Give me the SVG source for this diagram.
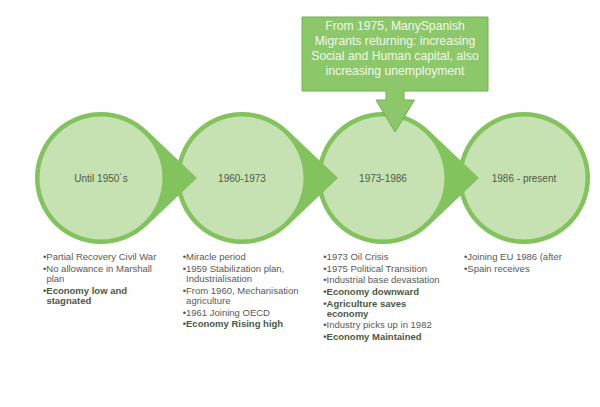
<svg xmlns="http://www.w3.org/2000/svg" width="600" height="407" viewBox="0 0 600 407">
<style>
.ring{fill:#82C35E}
.core{fill:#C6E2B2}
.tip{fill:#82C35E}
.lbl{font-family:"Liberation Sans",Arial,sans-serif;font-size:10px;fill:#4F5B46;text-anchor:middle}
.li{font-family:"Liberation Sans",Arial,sans-serif;font-size:9.5px;fill:#595959}
.b{font-weight:bold;fill:#4C5843}
.co{fill:#8CC86A;stroke:#72AF4E;stroke-width:1}
.cot{font-family:"Liberation Sans",Arial,sans-serif;font-size:12.2px;fill:#F1F8EB;text-anchor:middle}
</style>
<rect width="600" height="407" fill="#FFFFFF"/>
<g id="node-1986">
<circle class="ring" cx="524" cy="178" r="66"/>
<circle class="core" cx="524" cy="178" r="61.5"/>
<text class="lbl" x="524" y="181.5">1986 - present</text>
<text class="li" x="464" y="260">•Joining EU 1986 (after</text>
<text class="li" x="464" y="271.7">•Spain receives</text>
</g>
<g id="node-1973">
<circle class="ring" cx="383" cy="178" r="66"/>
<circle class="core" cx="383" cy="178" r="61.5"/>
<text class="lbl" x="383" y="181.5">1973-1986</text>
<text class="li" x="323.3" y="260">•1973 Oil Crisis</text>
<text class="li" x="323.3" y="271.7">•1975 Political Transition</text>
<text class="li" x="323.3" y="283">•Industrial base devastation</text>
<text class="li b" x="323.3" y="295">•Economy downward</text>
<text class="li b" x="323.3" y="306.7">•Agriculture saves</text>
<text class="li b" x="326.7" y="317">economy</text>
<text class="li" x="323.3" y="328">•Industry picks up in 1982</text>
<text class="li b" x="323.3" y="340">•Economy Maintained</text>
</g>
<g id="node-1960">
<circle class="ring" cx="242" cy="178" r="66"/>
<circle class="core" cx="242" cy="178" r="61.5"/>
<text class="lbl" x="242" y="181.5">1960-1973</text>
<text class="li" x="182.7" y="260">•Miracle  period</text>
<text class="li" x="182.7" y="271.7">•1959 Stabilization plan,</text>
<text class="li" x="186.1" y="282">Industrialisation</text>
<text class="li" x="182.7" y="293.5">•From 1960, Mechanisation</text>
<text class="li" x="186.1" y="303.5">agriculture</text>
<text class="li" x="182.7" y="315.5">•1961 Joining OECD</text>
<text class="li b" x="182.7" y="327">•Economy Rising high</text>
</g>
<g id="node-1950">
<circle class="ring" cx="101" cy="178" r="66"/>
<circle class="core" cx="101" cy="178" r="61.5"/>
<text class="lbl" x="101" y="181.5">Until 1950´s</text>
<text class="li" x="43" y="260">•Partial Recovery Civil War</text>
<text class="li" x="43" y="271.7">•No allowance in Marshall</text>
<text class="li" x="46.4" y="282">plan</text>
<text class="li b" x="43" y="293.5">•Economy low and</text>
<text class="li b" x="46.4" y="303.5">stagnated</text>
</g>
<g id="connectors">
<path class="tip" d="M146.38,130.07 L197,178 L146.38,225.93 L144.31,223.75 A63,63 0 0 0 144.31,132.25 Z"/>
<path class="tip" d="M287.38,130.07 L338,178 L287.38,225.93 L285.31,223.75 A63,63 0 0 0 285.31,132.25 Z"/>
<path class="tip" d="M428.38,130.07 L479,178 L428.38,225.93 L426.31,223.75 A63,63 0 0 0 426.31,132.25 Z"/>
</g>
<g id="callout">
<path class="co" d="M302,17 H488 V91 H404 V100 H414.5 L395,132 L376,100 H386 V91 H302 Z"/>
<text class="cot" x="395" y="29.5">From 1975, ManySpanish</text>
<text class="cot" x="395" y="44.5">Migrants returning: increasing</text>
<text class="cot" x="395" y="59.5">Social and Human capital, also</text>
<text class="cot" x="395" y="74.5">increasing unemployment</text>
</g>
</svg>
